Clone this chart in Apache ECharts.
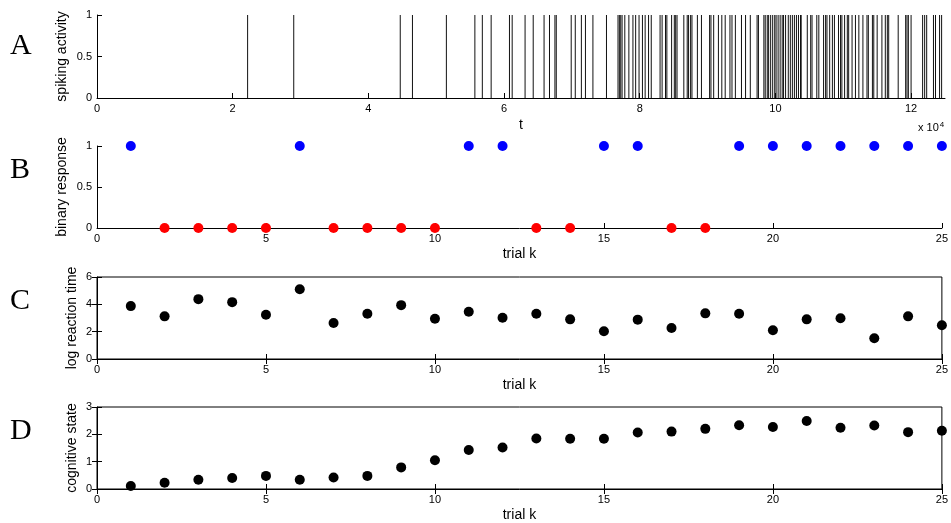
<!DOCTYPE html>
<html>
<head>
<meta charset="utf-8">
<script src="https://cdn.jsdelivr.net/npm/echarts@6/dist/echarts.min.js"></script>
<style>html,body{margin:0;padding:0;background:#fff;}#c{width:951px;height:523px;}</style>
</head>
<body>
<div id="c"></div>
<script>
// ---- data ----
// spike times (units of 1e4)
const spikeTimes = [2.22,2.90,4.47,4.65,5.15,5.57,5.68,5.81,6.08,6.12,6.31,6.43,6.59,6.67,6.75,6.77,6.99,7.05,7.14,7.20,7.31,7.51,
  7.68,7.70,7.72,7.74,7.78,7.84,7.90,7.94,7.99,8.04,8.08,8.13,8.17,8.30,8.33,8.38,8.40,8.47,8.51,8.53,8.55,8.65,
  8.70,8.72,8.75,8.77,8.85,8.91,9.03,9.05,9.09,9.16,9.21,9.26,9.33,9.36,9.41,9.50,9.56,9.63,9.73,9.75,9.83,9.85,9.88,9.90,9.93,9.96,9.99,
  10.01,10.04,10.07,10.10,10.12,10.15,10.19,10.22,10.25,10.28,10.31,10.34,10.37,10.38,10.47,10.52,10.54,10.61,10.64,10.71,10.74,10.76,10.80,10.84,10.87,10.93,10.96,10.98,11.02,11.06,11.08,11.13,11.18,11.23,11.29,
  11.35,11.37,11.43,11.45,11.50,11.57,11.62,11.65,11.67,11.81,11.92,11.94,11.96,12.00,12.17,12.20,12.23,12.33,12.36,12.42,12.45];
const trials = [1,2,3,4,5,6,7,8,9,10,11,12,13,14,15,16,17,18,19,20,21,22,23,24,25];
const binaryResp = [1,0,0,0,0,1,0,0,0,0,1,1,0,0,1,1,0,0,1,1,1,1,1,1,1];
const logRT = [3.87,3.12,4.38,4.16,3.24,5.10,2.64,3.31,3.94,2.95,3.46,3.02,3.31,2.90,2.03,2.88,2.27,3.34,3.31,2.10,2.90,2.98,1.52,3.12,2.47];
const cogState = [0.11,0.23,0.34,0.40,0.48,0.34,0.42,0.48,0.79,1.05,1.43,1.52,1.85,1.84,1.84,2.07,2.10,2.20,2.33,2.27,2.49,2.24,2.32,2.08,2.13];
const tTicks = [0,2,4,6,8,10,12];
const panelLetters = ['A','B','C','D'];
const yNames = ['spiking activity','binary response','log reaction time','cognitive state'];

// ---- chart ----
const chart = echarts.init(document.getElementById('c'), null, {renderer:'canvas'});
const FONT = 'Liberation Sans';
const lab = {color:'#000', fontFamily:FONT, fontSize:11, margin:5};
const nameStyle = {color:'#000', fontFamily:FONT, fontSize:14};
const line = {show:true, lineStyle:{color:'#000', width:1}};
const tick = {show:true, inside:true, length:5, lineStyle:{color:'#000', width:1}};

const grids = [
  {left:97, top:15, width:848, height:83},
  {left:97, top:146, width:848, height:82},
  {left:97, top:277, width:848, height:82, show:true, borderColor:'#000', borderWidth:1},
  {left:97, top:407, width:848, height:83, show:true, borderColor:'#000', borderWidth:1}
];

const xAxes = [
  {gridIndex:0, type:'value', min:0, max:12.5, interval:2, axisLine:line,
   axisTick:Object.assign({}, tick, {customValues:tTicks}),
   axisLabel:Object.assign({}, lab, {customValues:tTicks}), splitLine:{show:false},
   name:'t', nameLocation:'middle', nameGap:20, nameTextStyle:nameStyle, nameMoveOverlap:false},
  {gridIndex:1, type:'value', min:0, max:25, interval:5, axisLine:line, axisTick:tick, axisLabel:lab, splitLine:{show:false},
   name:'trial k', nameLocation:'middle', nameGap:19, nameTextStyle:nameStyle, nameMoveOverlap:false},
  {gridIndex:2, type:'value', min:0, max:25, interval:5, axisLine:line, axisTick:tick, axisLabel:lab, splitLine:{show:false},
   name:'trial k', nameLocation:'middle', nameGap:19, nameTextStyle:nameStyle, nameMoveOverlap:false},
  {gridIndex:3, type:'value', min:0, max:25, interval:5, axisLine:line, axisTick:tick, axisLabel:lab, splitLine:{show:false},
   name:'trial k', nameLocation:'middle', nameGap:19, nameTextStyle:nameStyle, nameMoveOverlap:false},
  // mirrored ticks for boxed panels
  {gridIndex:2, type:'value', position:'top', min:0, max:25, interval:5, axisLine:{show:false}, axisTick:tick, axisLabel:{show:false}, splitLine:{show:false}},
  {gridIndex:3, type:'value', position:'top', min:0, max:25, interval:5, axisLine:{show:false}, axisTick:tick, axisLabel:{show:false}, splitLine:{show:false}}
];

const yAxes = [
  {gridIndex:0, type:'value', min:0, max:1, interval:0.5, axisLine:line, axisTick:tick, axisLabel:lab, splitLine:{show:false},
   name:yNames[0], nameLocation:'middle', nameRotate:90, nameGap:28, nameTextStyle:nameStyle, nameMoveOverlap:false},
  {gridIndex:1, type:'value', min:0, max:1, interval:0.5, axisLine:line, axisTick:tick, axisLabel:lab, splitLine:{show:false},
   name:yNames[1], nameLocation:'middle', nameRotate:90, nameGap:28, nameTextStyle:nameStyle, nameMoveOverlap:false},
  {gridIndex:2, type:'value', min:0, max:6, interval:2, axisLine:line, axisTick:tick, axisLabel:lab, splitLine:{show:false},
   name:yNames[2], nameLocation:'middle', nameRotate:90, nameGap:18, nameTextStyle:nameStyle, nameMoveOverlap:false},
  {gridIndex:3, type:'value', min:0, max:3, interval:1, axisLine:line, axisTick:tick, axisLabel:lab, splitLine:{show:false},
   name:yNames[3], nameLocation:'middle', nameRotate:90, nameGap:18, nameTextStyle:nameStyle, nameMoveOverlap:false},
  {gridIndex:2, type:'value', position:'right', min:0, max:6, interval:2, axisLine:{show:false}, axisTick:tick, axisLabel:{show:false}, splitLine:{show:false}},
  {gridIndex:3, type:'value', position:'right', min:0, max:3, interval:1, axisLine:{show:false}, axisTick:tick, axisLabel:{show:false}, splitLine:{show:false}}
];

const letterY = [48, 172, 303, 433];
const graphics = panelLetters.map((L, i) => ({
  type:'text', left:10, top:letterY[i]-17,
  style:{text:L, font:'30px "Liberation Serif"', fill:'#000'}
}));
graphics.push({
  type:'text', left:918, top:121,
  style:{text:'x 10{s|4}', fill:'#000', font:'11px "Liberation Sans"',
    rich:{s:{fontSize:8, fontFamily:FONT, verticalAlign:'top', padding:[0,0,6,1]}}}
});

chart.setOption({
  animation:false,
  backgroundColor:'#fff',
  grid:grids,
  xAxis:xAxes,
  yAxis:yAxes,
  graphic:graphics,
  series:[
    {type:'bar', xAxisIndex:0, yAxisIndex:0, barWidth:1, itemStyle:{color:'#111'},
     data:spikeTimes.map(t => [t, 1])},
    {type:'scatter', xAxisIndex:1, yAxisIndex:1, symbolSize:10, clip:false,
     itemStyle:{opacity:1, color:(p) => p.value[1] === 1 ? '#0000ff' : '#ff0000'},
     data:trials.map((k, i) => [k, binaryResp[i]])},
    {type:'scatter', xAxisIndex:2, yAxisIndex:2, symbolSize:10, clip:false, itemStyle:{color:'#000', opacity:1},
     data:trials.map((k, i) => [k, logRT[i]])},
    {type:'scatter', xAxisIndex:3, yAxisIndex:3, symbolSize:10, clip:false, itemStyle:{color:'#000', opacity:1},
     data:trials.map((k, i) => [k, cogState[i]])}
  ]
});
</script>
</body>
</html>
